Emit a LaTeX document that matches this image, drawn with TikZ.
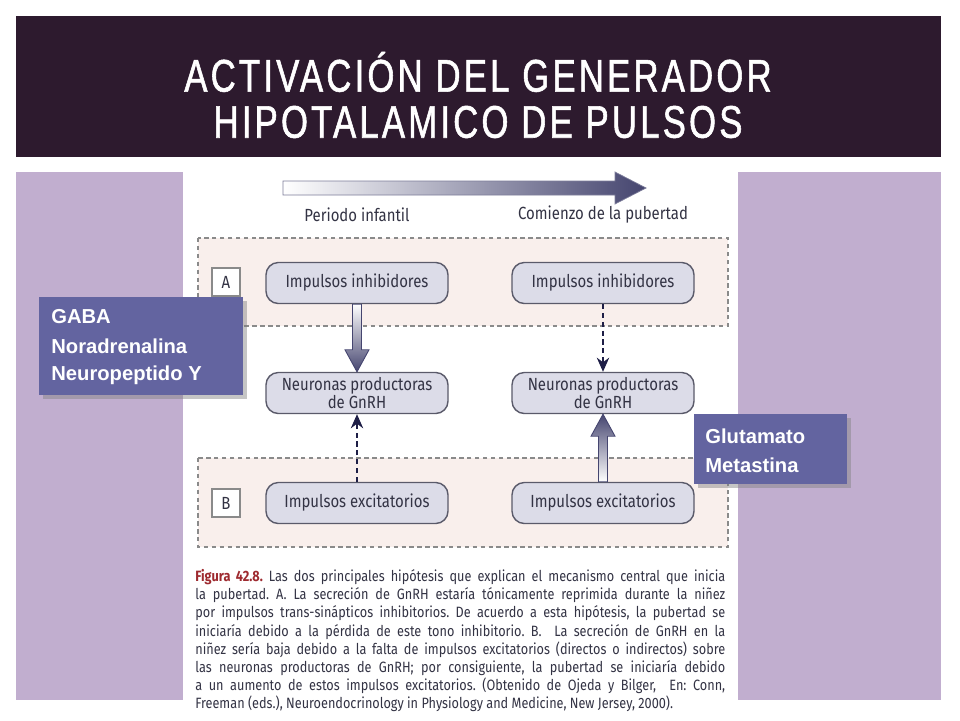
\documentclass[tikz,border=0pt]{standalone}
\usepackage{fontspec}
\setmainfont{Liberation Sans}
\newfontfamily\titlefont[FakeStretch=0.76,LetterSpace=7,FakeBold=1.2]{Liberation Sans}
\newfontfamily\figfont[FakeStretch=0.85]{Fira Sans}
\newfontfamily\callfont{Liberation Sans}
\usetikzlibrary{arrows.meta,calc,shadows}
\definecolor{titlebg}{HTML}{2D1A2E}
\definecolor{lav}{HTML}{C1AECF}
\definecolor{callbg}{HTML}{6364A0}
\definecolor{nodefill}{HTML}{DCDCE8}
\definecolor{nodeline}{HTML}{5A5A6A}
\definecolor{zonefill}{HTML}{F9EFEC}
\definecolor{zoneline}{HTML}{8A8A8A}
\definecolor{arrowdark}{HTML}{45456F}
\definecolor{capred}{HTML}{9E2A2F}
\definecolor{figtext}{HTML}{333344}
\definecolor{navy}{HTML}{1E1E46}
\tikzset{
  procbox/.style={draw=nodeline, line width=0.8pt, fill=nodefill, rounded corners=7pt,
    minimum width=182*0.02cm, minimum height=41*0.02cm, inner sep=0pt,
    font=\figfont\fontsize{10}{11}\selectfont, text=figtext, align=center},
  zone/.style={draw=zoneline, fill=zonefill, dash pattern=on 2.5pt off 2pt, line width=0.6pt},
  tag/.style={draw=zoneline, fill=white, line width=0.6pt, minimum width=28*0.02cm,
    minimum height=28*0.02cm, inner sep=0pt, font=\figfont\fontsize{10}{11}\selectfont, text=figtext},
  callout/.style={fill=callbg, inner sep=0pt, drop shadow={shadow xshift=2pt, shadow yshift=-2pt, opacity=0.45}},
  calltext/.style={font=\callfont\bfseries\fontsize{11.5}{13}\selectfont, text=white, anchor=west, inner sep=0pt},
  dasharrow/.style={draw=navy, line width=1.3pt, dash pattern=on 3pt off 2pt,
    -{Stealth[length=8pt,width=7pt]}},
  period/.style={font=\figfont\fontsize{10}{11}\selectfont, text=figtext},
  capline/.style={font=\figfont\fontsize{8.5}{10}\selectfont\frenchspacing, text=figtext, anchor=west, inner sep=0pt},
  titletext/.style={font=\titlefont\fontsize{26}{28}\selectfont, text=white}
}
\begin{document}
\begin{tikzpicture}[x=0.02cm,y=-0.02cm]
\useasboundingbox (0,0) rectangle (960,720);
\fill[white] (0,0) rectangle (960,720);
% title bar
\fill[titlebg] (16,16) rectangle (941,157);
\node[titletext] (t1) at (478,72) {ACTIVACIÓN DEL GENERADOR};
\node[titletext] (t2) at (478,122) {HIPOTALAMICO DE PULSOS};
% lavender panel and figure area
\fill[lav] (16,172) rectangle (941,700);
\fill[white] (183,172) rectangle (738,715);
% timeline arrow
\shade[left color=white, right color=arrowdark, draw=arrowdark!70, line width=0.4pt]
  (283,181) -- (615,181) -- (615,172) -- (646,188) -- (615,204) -- (615,195) -- (283,195) -- cycle;
\node[period] (p1) at (357,215) {Periodo infantil};
\node[period] (p2) at (603,215) {Comienzo de la pubertad};
% zones
\draw[zone] (198,238) rectangle (728,326);
\draw[zone] (198,458) rectangle (728,547);
\node[tag] (ta) at (226,282) {A};
\node[tag] (tb) at (226,503) {B};
% process boxes
\node[procbox] (lt) at (357,283) {Impulsos inhibidores};
\node[procbox] (rt) at (603,283) {Impulsos inhibidores};
\node[procbox] (ln) at (357,393) {Neuronas productoras\\[-1pt]de GnRH};
\node[procbox] (rn) at (603,393) {Neuronas productoras\\[-1pt]de GnRH};
\node[procbox] (lb) at (357,503) {Impulsos excitatorios};
\node[procbox] (rb) at (603,503) {Impulsos excitatorios};
% thick arrows
\shade[top color=white, bottom color=arrowdark, draw=arrowdark, line width=0.5pt]
  ($(lt.south)+(-4.5,0)$) -- ($(ln.north)+(-4.5,-22)$) -- ($(ln.north)+(-12,-22)$) --
  (ln.north) -- ($(ln.north)+(12,-22)$) -- ($(ln.north)+(4.5,-22)$) -- ($(lt.south)+(4.5,0)$) -- cycle;
\shade[bottom color=white, top color=arrowdark, draw=arrowdark, line width=0.5pt]
  ($(rb.north)+(-4.5,0)$) -- ($(rn.south)+(-4.5,22)$) -- ($(rn.south)+(-12,22)$) --
  (rn.south) -- ($(rn.south)+(12,22)$) -- ($(rn.south)+(4.5,22)$) -- ($(rb.north)+(4.5,0)$) -- cycle;
% dashed arrows
\draw[dasharrow] (rt.south) -- (rn.north);
\draw[dasharrow] (lb.north) -- (ln.south);
% caption
\node[capline] (c1) at (195,577) {\makebox[10.6cm][s]{\textcolor{capred}{\bfseries Figura 42.8.} Las dos principales hipótesis que explican el mecanismo central que inicia}};
\node[capline] (c2) at (195,595) {\makebox[10.6cm][s]{la pubertad. A. La secreción de GnRH estaría tónicamente reprimida durante la niñez}};
\node[capline] (c3) at (195,613) {\makebox[10.6cm][s]{por impulsos trans-sinápticos inhibitorios. De acuerdo a esta hipótesis, la pubertad se}};
\node[capline] (c4) at (195,632) {\makebox[10.6cm][s]{iniciaría debido a la pérdida de este tono inhibitorio. B.\ \ La secreción de GnRH en la}};
\node[capline] (c5) at (195,650) {\makebox[10.6cm][s]{niñez sería baja debido a la falta de impulsos excitatorios (directos o indirectos) sobre}};
\node[capline] (c6) at (195,668) {\makebox[10.6cm][s]{las neuronas productoras de GnRH; por consiguiente, la pubertad se iniciaría debido}};
\node[capline] (c7) at (195,686) {\makebox[10.6cm][s]{a un aumento de estos impulsos excitatorios. (Obtenido de Ojeda y Bilger,\ \ En: Conn,}};
\node[capline] (c8) at (195,704) {Freeman (eds.), Neuroendocrinology in Physiology and Medicine, New Jersey, 2000).};
% callouts
\path[callout] (39,297) rectangle (243,395);
\node[calltext] (g1) at (51,317) {GABA};
\node[calltext] (g2) at (51,346) {Noradrenalina};
\node[calltext] (g3) at (51,375) {Neuropeptido Y};
\path[callout] (694,414) rectangle (847,484);
\node[calltext] (h1) at (705,436) {Glutamato};
\node[calltext] (h2) at (705,465) {Metastina};
\end{tikzpicture}
\end{document}
